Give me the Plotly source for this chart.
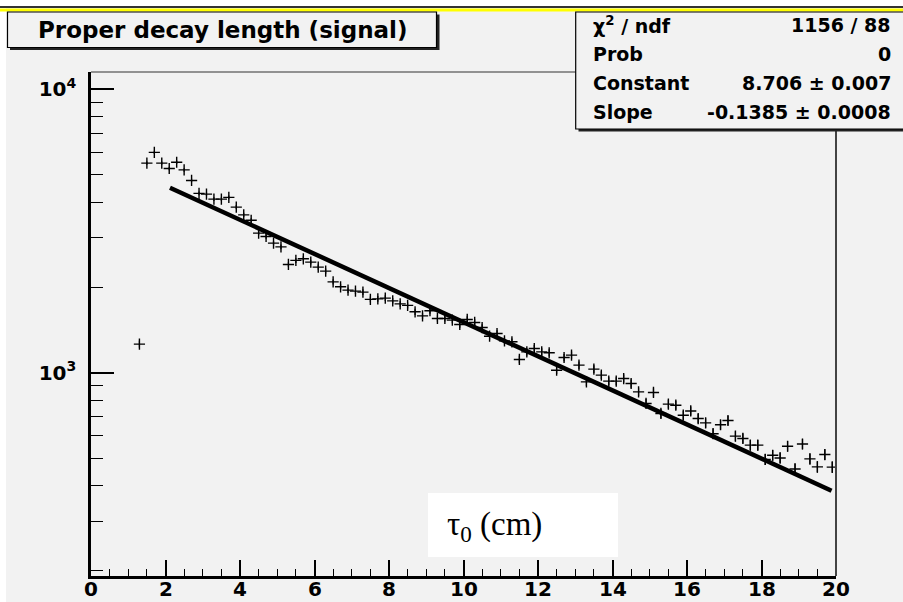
import plotly.graph_objects as go
import numpy as np

# ---- data ----
tau = [1.3, 1.5, 1.7, 1.9, 2.1, 2.3, 2.5, 2.7, 2.9, 3.1, 3.3, 3.5, 3.7, 3.9,
       4.1, 4.3, 4.5, 4.7, 4.9, 5.1, 5.3, 5.5, 5.7, 5.9, 6.1, 6.3, 6.5, 6.7,
       6.9, 7.1, 7.3, 7.5, 7.7, 7.9, 8.1, 8.3, 8.5, 8.7, 8.9, 9.1, 9.3, 9.5,
       9.7, 9.9, 10.1, 10.3, 10.5, 10.7, 10.9, 11.1, 11.3, 11.5, 11.7, 11.9,
       12.1, 12.3, 12.5, 12.7, 12.9, 13.1, 13.3, 13.5, 13.7, 13.9, 14.1, 14.3,
       14.5, 14.7, 14.9, 15.1, 15.3, 15.5, 15.7, 15.9, 16.1, 16.3, 16.5, 16.7,
       16.9, 17.1, 17.3, 17.5, 17.7, 17.9, 18.1, 18.3, 18.5, 18.7, 18.9, 19.1,
       19.3, 19.5, 19.7, 19.9]
counts = [1263, 5495, 5995, 5495, 5260, 5534, 5200, 4774, 4297, 4273, 4102, 4102,
          4159, 3845, 3610, 3453, 3112, 3029, 2869, 2783, 2413, 2493, 2526, 2459,
          2361, 2286, 2094, 2012, 1958, 1942, 1927, 1816, 1824, 1835, 1795, 1752,
          1730, 1642, 1589, 1656, 1556, 1556, 1535, 1482, 1543, 1506, 1445, 1347,
          1377, 1297, 1287, 1115, 1186, 1219, 1186, 1177, 1022, 1133, 1155, 1065,
          929, 1031, 982, 935, 935, 955, 917, 857, 780, 853, 719, 776, 769, 709,
          734, 690, 666, 610, 656, 679, 598, 587, 556, 556, 495, 512, 501, 551,
          458, 561, 497, 466, 515, 465]
fit_x = [2.12, 19.88]
fit_y = [4500, 384]

x_ticks = [0, 2, 4, 6, 8, 10, 12, 14, 16, 18, 20]
x_ticktext = ["0", "2", "4", "6", "8", "10", "12", "14", "16", "18", "20"]
y_ticks = [1000, 10000]
y_ticktext = ["10<sup>3</sup>", "10<sup>4</sup>"]
y_minor = [200, 300, 400, 500, 600, 700, 800, 900, 2000, 3000, 4000, 5000,
           6000, 7000, 8000, 9000]

title_text = "Proper decay length (signal)"
stats_labels = ["\u03c7<sup>2</sup> / ndf", "Prob", "Constant", "Slope"]
stats_values = ["1156 / 88", "0", "8.706 \u00b1 0.007", "-0.1385 \u00b1 0.0008"]
xlabel = "\u03c4<sub>0</sub> (cm)"

# ---- geometry ----
W, H = 903, 602
L, R, T, B = 91, 836, 72, 576
BG = "#f2f2f2"


def px(x):
    return (x - L) / (R - L)


def py(y):
    return (B - y) / (B - T)


fig = go.Figure()
fig.add_trace(go.Scatter(
    x=tau, y=counts, mode="markers",
    marker=dict(symbol="cross-thin", size=8, line=dict(width=1.4, color="black"), color="black"),
    error_y=dict(type="data", array=list(np.sqrt(counts)), width=0, thickness=1.2, color="black"),
    showlegend=False, hoverinfo="skip"))
fig.add_trace(go.Scatter(
    x=fit_x, y=fit_y, mode="lines", line=dict(color="black", width=4.5),
    showlegend=False, hoverinfo="skip"))

tickfont = dict(family="DejaVu Sans", size=20, color="black", weight="bold")

fig.update_layout(
    width=W, height=H,
    margin=dict(l=L, r=W - R, t=T, b=H - B, pad=0, autoexpand=False),
    paper_bgcolor=BG, plot_bgcolor=BG,
    xaxis=dict(range=[0, 20], tickvals=x_ticks, showgrid=False, zeroline=False,
               automargin=False, showticklabels=False,
               showline=True, linewidth=2.5, linecolor="black",
               ticks="inside", ticklen=16, tickwidth=1.6, tickcolor="black",
               minor=dict(dtick=0.5, tick0=0, ticks="inside", ticklen=7, tickwidth=1.4,
                          tickcolor="black", showgrid=False)),
    yaxis=dict(type="log", range=[np.log10(192), np.log10(11520)],
               automargin=False,
               tickvals=y_ticks, ticktext=y_ticktext, showgrid=False, zeroline=False,
               showline=True, linewidth=2.5, linecolor="black",
               ticks="inside", ticklen=23, tickwidth=1.6, tickcolor="black",
               minor=dict(tickvals=y_minor, ticks="inside", ticklen=12, tickwidth=1.4,
                          tickcolor="black", showgrid=False),
               tickfont=tickfont, ticklabelstandoff=8),
)

shapes = []
# white margins top/left and the yellow/dark rule at top
shapes.append(dict(type="rect", x0=px(0), x1=px(W), y0=py(0), y1=py(6), fillcolor="white", line_width=0))
shapes.append(dict(type="rect", x0=px(0), x1=px(6), y0=py(0), y1=py(H), fillcolor="white", line_width=0))
shapes.append(dict(type="rect", x0=px(0), x1=px(W), y0=py(6), y1=py(8), fillcolor="#333333", line_width=0))
shapes.append(dict(type="rect", x0=px(0), x1=px(W), y0=py(8.5), y1=py(11.5), fillcolor="#ffff00", line_width=0))
# frame top and right
shapes.append(dict(type="line", x0=px(L), x1=px(R), y0=py(T), y1=py(T), line=dict(color="#333333", width=1.2)))
shapes.append(dict(type="line", x0=px(R), x1=px(R), y0=py(T), y1=py(B), line=dict(color="#444444", width=2)))
# title box
shapes.append(dict(type="rect", x0=px(10), x1=px(439.5), y0=py(14.5), y1=py(50), fillcolor="#222222", line_width=0))
shapes.append(dict(type="rect", x0=px(7.5), x1=px(436.5), y0=py(12), y1=py(47.5), fillcolor=BG,
                   line=dict(color="black", width=1.2)))
# stats box
shapes.append(dict(type="rect", x0=px(578.5), x1=px(910), y0=py(14.5), y1=py(131.5), fillcolor="#222222", line_width=0))
shapes.append(dict(type="rect", x0=px(575.7), x1=px(908), y0=py(12), y1=py(129), fillcolor=BG,
                   line=dict(color="black", width=1.2)))
# white label box
shapes.append(dict(type="rect", x0=px(428), x1=px(618), y0=py(493), y1=py(557), fillcolor="white", line_width=0))
for s in shapes:
    s.update(xref="paper", yref="paper", layer="above")
fig.update_layout(shapes=shapes)

ann = []
# x tick labels placed on the x data scale
for xv, xt in zip(x_ticks, x_ticktext):
    ann.append(dict(text=xt, x=xv, xref="x", y=py(589), yref="paper", xanchor="center",
                    yanchor="middle", font=tickfont, showarrow=False))
ann.append(dict(text=title_text, x=px(222), y=py(30), xanchor="center", yanchor="middle",
                xref="paper", yref="paper", showarrow=False,
                font=dict(family="DejaVu Sans", size=23, color="black", weight="bold")))
rows_y = [25, 54, 83, 112]
sfont = dict(family="DejaVu Sans", size=19, color="black", weight="bold")
for lab, val, yy in zip(stats_labels, stats_values, rows_y):
    ann.append(dict(text=lab, x=px(591), y=py(yy), xanchor="left", yanchor="middle", font=sfont,
                    xref="paper", yref="paper", showarrow=False))
    ann.append(dict(text=val, x=px(893), y=py(yy), xanchor="right", yanchor="middle", font=sfont,
                    xref="paper", yref="paper", showarrow=False))
ann.append(dict(text=xlabel, x=px(445), y=py(526), xanchor="left", yanchor="middle",
                xref="paper", yref="paper", showarrow=False,
                font=dict(family="Liberation Serif", size=33, color="black")))
fig.update_layout(annotations=ann)

fig.write_html("out.html")
